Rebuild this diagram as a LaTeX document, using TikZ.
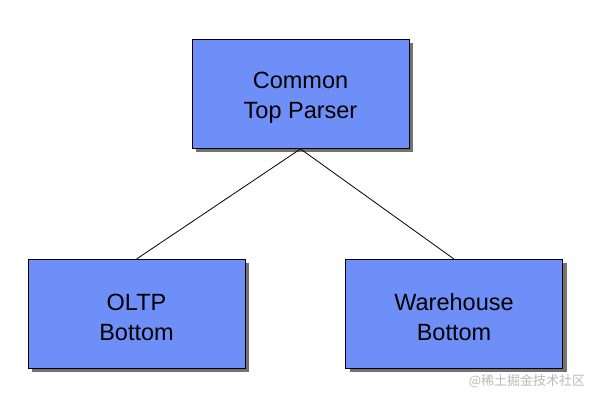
\documentclass[tikz,border=0pt]{standalone}
\usepackage{fontspec}
\setmainfont{Liberation Sans}
\newfontfamily\cjk{Noto Sans CJK SC}
\usepackage{xcolor}
\usepackage{tikz}
\usetikzlibrary{positioning, shadows}

\definecolor{parserblue}{RGB}{110,143,247}
\definecolor{markgray}{RGB}{185,185,185}

\newcommand{\toplift}{\rule{0pt}{23pt}}

\begin{document}
\begin{tikzpicture}[x=1pt, y=1pt,
    parser/.style={draw=black, line width=0.9pt, fill=parserblue,
        minimum width=217pt, minimum height=109pt, align=center,
        font=\fontsize{23.5}{30}\selectfont,
        drop shadow={shadow xshift=4pt, shadow yshift=-4pt, fill=black!55, opacity=1}}]
    % Khung hình
    \useasboundingbox (0,0) rectangle (595,403);

    % Các khối
    \node[parser] (top) at (300.5,309) {\toplift Common\\Top Parser};
    \node[parser] (oltp) at (136.5,89) {\toplift OLTP\\Bottom};
    \node[parser] (wh) at (454,89) {\toplift Warehouse\\Bottom};

    % Nối các khối
    \foreach \b in {oltp, wh} {
        \draw[line width=0.8pt] (top.south) -- (\b.north);
    }

    % Chữ mờ
    \node[text=markgray, font=\cjk\fontsize{13}{13}\selectfont] (mark) at (527,22) {@稀土掘金技术社区};
\end{tikzpicture}
\end{document}
